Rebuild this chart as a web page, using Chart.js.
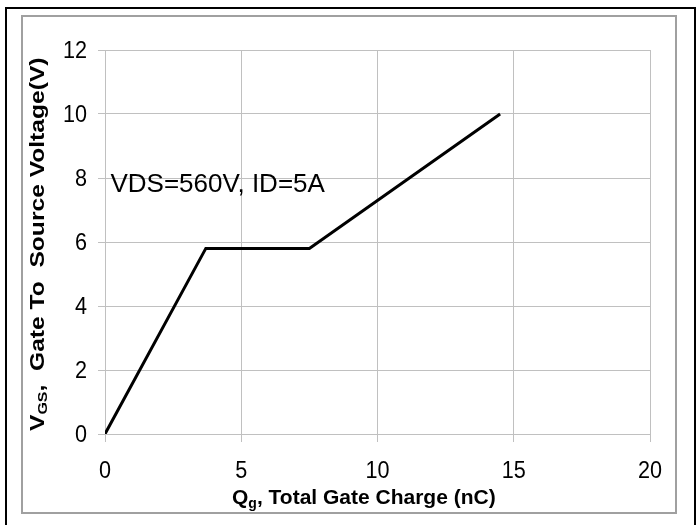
<!DOCTYPE html>
<html>
<head>
<meta charset="utf-8">
<script src="https://cdn.jsdelivr.net/npm/chart.js@4.4.1/dist/chart.umd.min.js"></script>
<style>
    html, body { margin: 0; padding: 0; background: #fff; }
    canvas { display: block; }
</style>
</head>
<body>
<canvas id="gateChargeChart" width="700" height="525"></canvas>
<script>
// Gate charge curve
const gateCharge = [0, 3.7, 7.5, 14.5];     // Qg (nC)
const gateVoltage = [0, 5.8, 5.8, 10];      // VGS (V)

// Axis ticks
const xTickValues = [0, 5, 10, 15, 20];
const yTickValues = [0, 2, 4, 6, 8, 10, 12];

// Test condition label, placed in data units
const noteText = 'VDS=560V, ID=5A';
const notePos = [0.2, 7.8];

const FONT = "'Liberation Sans', Arial, sans-serif";
const GRID = '#c0c0c0';

// Draws text made of normal and subscript pieces, left to right
function drawPieces(ctx, pieces, x, y) {
    let cx = x;
    pieces.forEach(p => {
        ctx.font = p.font;
        ctx.fillText(p.text, cx, y + (p.dy || 0));
        cx += ctx.measureText(p.text).width;
    });
}

// Tick labels in the original are a bit condensed, so they are drawn here
function drawCondensed(ctx, text, x, y, align) {
    ctx.save();
    ctx.translate(x, y);
    ctx.scale(0.9, 1);
    ctx.textAlign = align;
    ctx.fillText(text, 0, 0);
    ctx.restore();
}

// Frames, axis titles, tick labels and the condition note
const decorPlugin = {
    id: 'decor',
    beforeDraw(chart) {
        const ctx = chart.ctx;
        ctx.save();
        ctx.fillStyle = '#fff';
        ctx.fillRect(0, 0, chart.width, chart.height);

        // outer black frame (open at the bottom)
        ctx.strokeStyle = '#000';
        ctx.lineWidth = 2;
        ctx.beginPath();
        ctx.moveTo(6, 525);
        ctx.lineTo(6, 8);
        ctx.lineTo(695, 8);
        ctx.lineTo(695, 525);
        ctx.stroke();

        // inner grey frame
        ctx.strokeStyle = '#a0a0a0';
        ctx.strokeRect(22, 16, 654, 497);
        ctx.restore();
    },
    afterDraw(chart) {
        const ctx = chart.ctx;
        const xs = chart.scales.x;
        const ys = chart.scales.y;
        ctx.save();
        ctx.fillStyle = '#000';

        // tick labels
        ctx.font = '24px ' + FONT;
        ctx.textBaseline = 'middle';
        xs.ticks.forEach(t => drawCondensed(ctx, String(t.value), xs.getPixelForValue(t.value), 471, 'center'));
        ys.ticks.forEach(t => drawCondensed(ctx, String(t.value), 87, ys.getPixelForValue(t.value) + 1, 'right'));

        ctx.textBaseline = 'alphabetic';
        ctx.textAlign = 'left';

        // x axis title
        drawPieces(ctx, [
            { text: 'Q', font: 'bold 21px ' + FONT },
            { text: 'g', font: 'bold 14px ' + FONT, dy: 4 },
            { text: ', Total Gate Charge (nC)', font: 'bold 21px ' + FONT }
        ], 232, 504);

        // y axis title, rotated and stretched along its length like the original
        ctx.translate(44, 431);
        ctx.rotate(-Math.PI / 2);
        ctx.scale(1.23, 1);
        drawPieces(ctx, [
            { text: 'V', font: 'bold 20px ' + FONT },
            { text: 'GS', font: 'bold 13px ' + FONT, dy: 3 },
            { text: ',\u00a0 Gate To\u00a0 Source Voltage(V)', font: 'bold 20px ' + FONT }
        ], 0, 0);
        ctx.setTransform(1, 0, 0, 1, 0, 0);

        // condition note
        ctx.font = '26px ' + FONT;
        ctx.textBaseline = 'middle';
        ctx.fillText(noteText, xs.getPixelForValue(notePos[0]), ys.getPixelForValue(notePos[1]));
        ctx.restore();
    }
};

const ctx = document.getElementById('gateChargeChart').getContext('2d');
new Chart(ctx, {
    type: 'line',
    data: {
        datasets: [{
            data: gateCharge.map((q, i) => ({ x: q, y: gateVoltage[i] })),
            borderColor: '#000',
            borderWidth: 3,
            pointRadius: 0,
            tension: 0,
            fill: false
        }]
    },
    options: {
        responsive: false,
        animation: false,
        layout: {
            padding: { left: 0, top: 50, right: 50, bottom: 0 }
        },
        plugins: {
            legend: { display: false },
            tooltip: { enabled: false }
        },
        scales: {
            x: {
                type: 'linear',
                min: 0,
                max: 20,
                afterBuildTicks: axis => { axis.ticks = xTickValues.map(v => ({ value: v })); },
                afterFit: axis => { axis.height = 91; },
                ticks: {
                    color: 'rgba(0,0,0,0)',
                    font: { family: FONT, size: 23 }
                },
                grid: { color: GRID, lineWidth: 1, tickLength: 8 },
                border: { color: GRID }
            },
            y: {
                min: 0,
                max: 12,
                afterBuildTicks: axis => { axis.ticks = yTickValues.map(v => ({ value: v })); },
                afterFit: axis => { axis.width = 105; },
                ticks: {
                    color: 'rgba(0,0,0,0)',
                    font: { family: FONT, size: 23 }
                },
                grid: { color: GRID, lineWidth: 1, tickLength: 7 },
                border: { color: GRID }
            }
        }
    },
    plugins: [decorPlugin]
});
</script>
</body>
</html>
